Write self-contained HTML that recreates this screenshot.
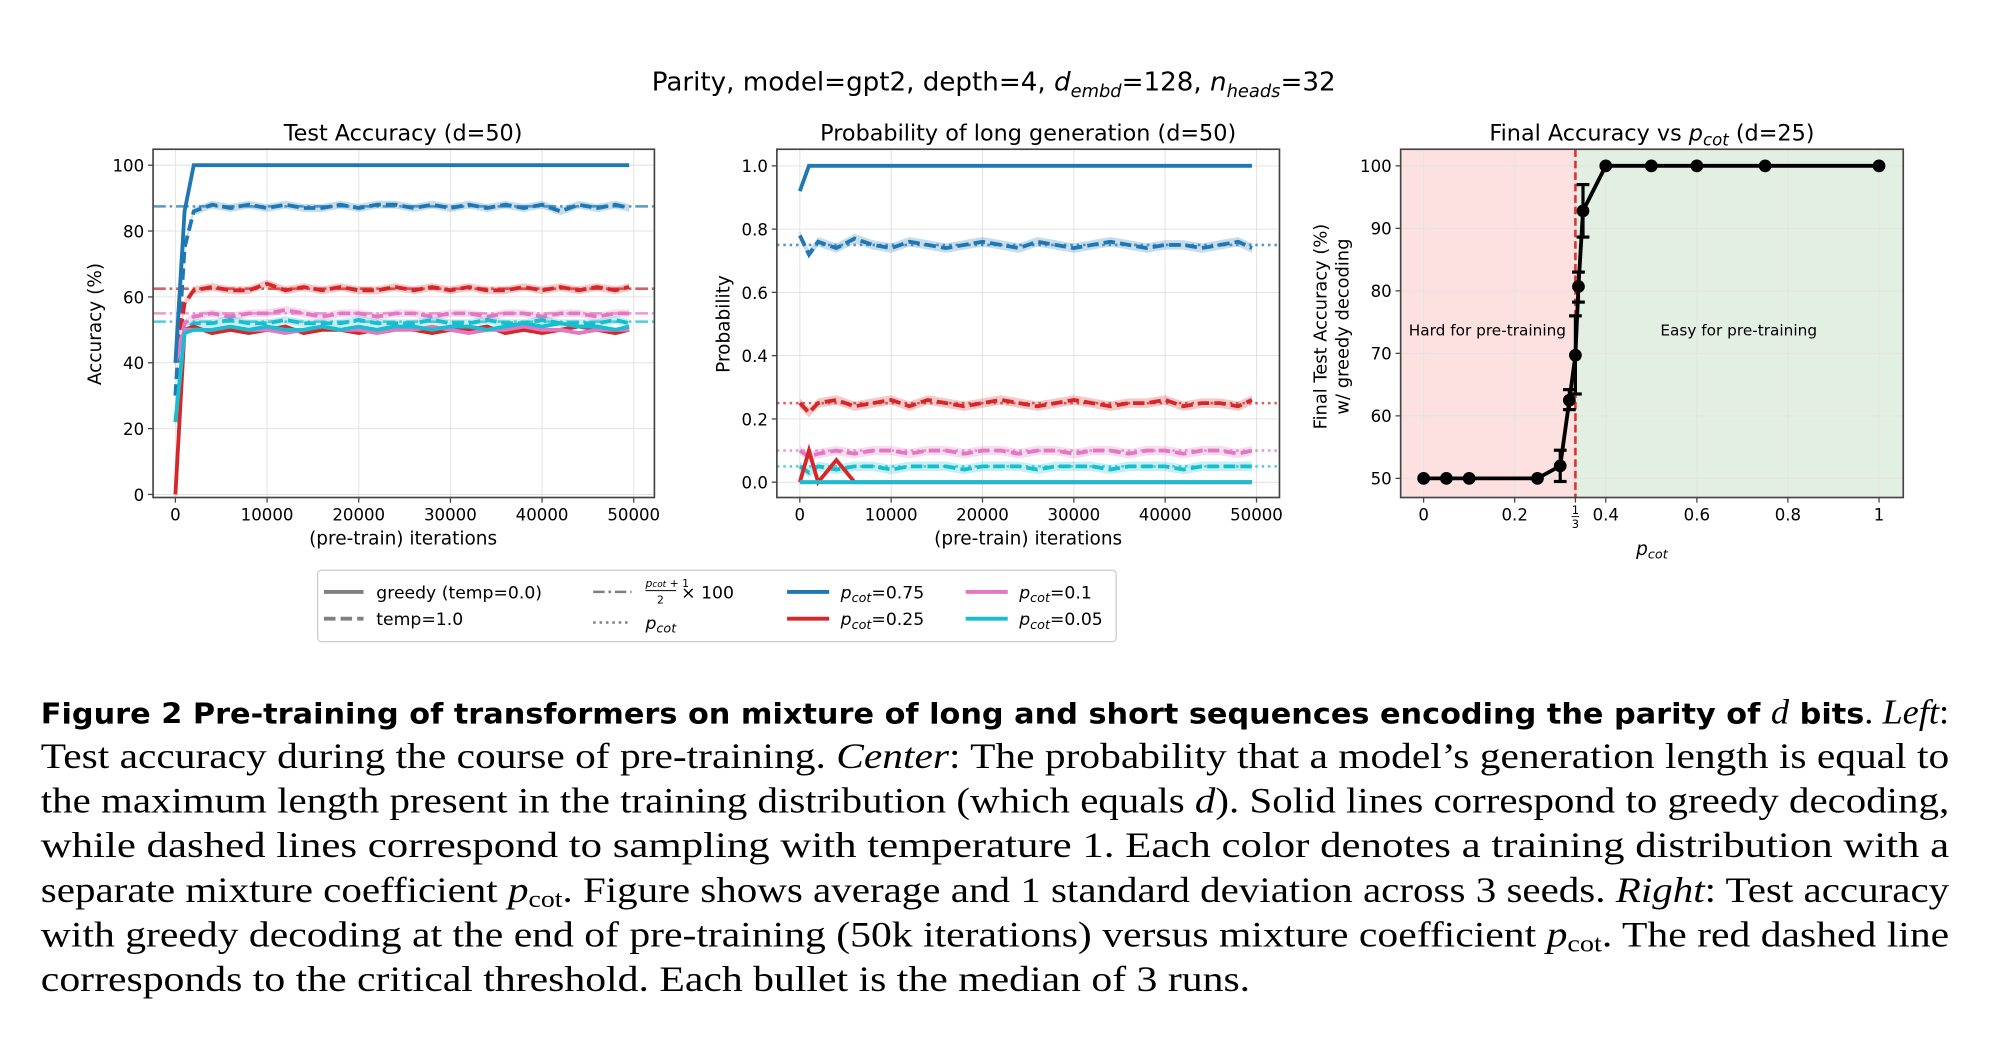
<!DOCTYPE html>
<html><head><meta charset="utf-8"><style>
html,body{margin:0;padding:0;background:#fff;}
svg{display:block;}
.t{font-family:"DejaVu Sans","Liberation Sans",sans-serif;fill:#000;}
.s{font-family:"Liberation Serif",serif;fill:#000;}
</style></head><body>
<svg id="fig" width="1990" height="1038" viewBox="0 0 1560 813.7" preserveAspectRatio="none" xmlns="http://www.w3.org/2000/svg">
<rect x="0" y="0" width="1560" height="814" fill="#fff"/>
<text class="t" x="779" y="71" font-size="20.5" text-anchor="middle">Parity, model=gpt2, depth=4, <tspan font-style="italic">d</tspan><tspan font-size="14" dy="5" font-style="italic">embd</tspan><tspan dy="-5">=128, </tspan><tspan font-style="italic">n</tspan><tspan font-size="14" dy="5" font-style="italic">heads</tspan><tspan dy="-5">=32</tspan></text>
<g id="left"></g>
<g id="mid"></g>
<g id="right"></g>
<g id="legend">
<rect x="249" y="447" width="626" height="56" rx="3" fill="#fff" stroke="#ccc" stroke-width="1"/>
<line x1="254" y1="464" x2="285" y2="464" stroke="#808080" stroke-width="3"/>
<text class="t" x="295" y="469" font-size="13.5">greedy (temp=0.0)</text>
<line x1="254" y1="485" x2="285" y2="485" stroke="#808080" stroke-width="3" stroke-dasharray="9,4"/>
<text class="t" x="295" y="490" font-size="13.5">temp=1.0</text>
<line x1="465" y1="464" x2="495" y2="464" stroke="#808080" stroke-width="2" stroke-dasharray="9,3,2,3"/>
<text class="t" x="506" y="460" font-size="8.5" font-style="italic">p<tspan font-size="7">cot</tspan><tspan font-style="normal"> + 1</tspan></text>
<line x1="506" y1="463" x2="530" y2="463" stroke="#000" stroke-width="0.8"/>
<text class="t" x="515" y="473" font-size="8.5">2</text>
<text class="t" x="534" y="469" font-size="13.5">× 100</text>
<line x1="465" y1="488" x2="495" y2="488" stroke="#808080" stroke-width="2" stroke-dasharray="2,3"/>
<text class="t" x="506" y="493" font-size="13.5" font-style="italic">p<tspan font-size="10" dy="3">cot</tspan></text>
<line x1="617" y1="464" x2="650" y2="464" stroke="#1f77b4" stroke-width="3"/>
<text class="t" x="659" y="469" font-size="13.5"><tspan font-style="italic">p</tspan><tspan font-size="10" dy="3" font-style="italic">cot</tspan><tspan dy="-3">=0.75</tspan></text>
<line x1="617" y1="485" x2="650" y2="485" stroke="#d62728" stroke-width="3"/>
<text class="t" x="659" y="490" font-size="13.5"><tspan font-style="italic">p</tspan><tspan font-size="10" dy="3" font-style="italic">cot</tspan><tspan dy="-3">=0.25</tspan></text>
<line x1="757" y1="464" x2="790" y2="464" stroke="#e377c2" stroke-width="3"/>
<text class="t" x="799" y="469" font-size="13.5"><tspan font-style="italic">p</tspan><tspan font-size="10" dy="3" font-style="italic">cot</tspan><tspan dy="-3">=0.1</tspan></text>
<line x1="757" y1="485" x2="790" y2="485" stroke="#17becf" stroke-width="3"/>
<text class="t" x="799" y="490" font-size="13.5"><tspan font-style="italic">p</tspan><tspan font-size="10" dy="3" font-style="italic">cot</tspan><tspan dy="-3">=0.05</tspan></text>
</g>
<g id="caption">
<text x="32" y="567" font-size="22.5" textLength="1496" lengthAdjust="spacingAndGlyphs"><tspan class="t" font-weight="bold" font-family="Liberation Sans, sans-serif">Figure 2  Pre-training of transformers on mixture of long and short sequences encoding the parity of </tspan><tspan class="s" font-style="italic" font-size="27">d</tspan><tspan class="t" font-weight="bold" font-family="Liberation Sans, sans-serif"> bits</tspan><tspan class="s" font-size="27">. </tspan><tspan class="s" font-style="italic" font-size="27">Left</tspan><tspan class="s" font-size="27">:</tspan></text>
<text class="s" x="32" y="602" font-size="28" textLength="1496" lengthAdjust="spacingAndGlyphs">Test accuracy during the course of pre-training. <tspan font-style="italic">Center</tspan>: The probability that a model’s generation length is equal to</text>
<text class="s" x="32" y="637" font-size="28" textLength="1496" lengthAdjust="spacingAndGlyphs">the maximum length present in the training distribution (which equals <tspan font-style="italic">d</tspan>). Solid lines correspond to greedy decoding,</text>
<text class="s" x="32" y="672" font-size="28" textLength="1496" lengthAdjust="spacingAndGlyphs">while dashed lines correspond to sampling with temperature 1. Each color denotes a training distribution with a</text>
<text class="s" x="32" y="707" font-size="28" textLength="1496" lengthAdjust="spacingAndGlyphs">separate mixture coefficient <tspan font-style="italic">p</tspan><tspan font-size="19" dy="4">cot</tspan><tspan dy="-4">. Figure shows average and 1 standard deviation across 3 seeds. </tspan><tspan font-style="italic">Right</tspan>: Test accuracy</text>
<text class="s" x="32" y="742" font-size="28" textLength="1496" lengthAdjust="spacingAndGlyphs">with greedy decoding at the end of pre-training (50k iterations) versus mixture coefficient <tspan font-style="italic">p</tspan><tspan font-size="19" dy="4">cot</tspan><tspan dy="-4">. The red dashed line</tspan></text>
<text class="s" x="32" y="777" font-size="28" textLength="948" lengthAdjust="spacingAndGlyphs">corresponds to the critical threshold. Each bullet is the median of 3 runs.</text>
</g>
</svg>
<script>
const iters = [0,1000,2000,4000,6000,8000,10000,12000,14000,16000,18000,20000,22000,24000,26000,28000,30000,32000,34000,36000,38000,40000,42000,44000,46000,48000,49500];
const pcots = [0.75,0.25,0.1,0.05];
const accGreedy075 = [40,86,100,100,100,100,100,100,100,100,100,100,100,100,100,100,100,100,100,100,100,100,100,100,100,100,100];
const accGreedy025 = [0,50,51,49,50,49,50,51,49,50,50,49,50,51,50,49,50,50,51,49,50,49,50,51,50,49,50];
const accGreedy010 = [40,50,50,50,51,50,50,49,50,51,50,50,49,50,50,51,50,49,50,50,51,50,50,49,50,50,50];
const accGreedy005 = [22,49,50,50,51,50,51,50,50,51,50,51,50,51,51,50,51,51,50,51,52,51,52,51,51,50,51];
const accTemp075 = [30,75,86,88,87,88,87,88,87,87,88,87,88,88,87,88,87,88,87,88,87,88,86,88,87,88,87];
const accTemp025 = [40,58,62,63,62,62,64,62,63,62,63,62,62,63,62,63,62,63,62,62,63,62,63,62,63,62,63];
const accTemp010 = [40,52,54,55,54,55,55,56,55,54,55,55,54,55,55,54,55,55,54,55,55,54,55,55,54,55,55];
const accTemp005 = [22,50,52,52,53,52,52,53,52,52,52,53,52,52,52,53,52,52,53,52,52,53,52,52,52,53,52];
const probGreedy075 = [0.92,1,1,1,1,1,1,1,1,1,1,1,1,1,1,1,1,1,1,1,1,1,1,1,1,1,1];
const probGreedy025 = [0,0.1,0,0.07,0,0,0,0,0,0,0,0,0,0,0,0,0,0,0,0,0,0,0,0,0,0,0];
const probGreedy010 = [0,0,0,0,0,0,0,0,0,0,0,0,0,0,0,0,0,0,0,0,0,0,0,0,0,0,0];
const probGreedy005 = [0,0,0,0,0,0,0,0,0,0,0,0,0,0,0,0,0,0,0,0,0,0,0,0,0,0,0];
const probTemp075 = [0.78,0.72,0.76,0.74,0.77,0.75,0.74,0.76,0.75,0.74,0.75,0.76,0.75,0.74,0.76,0.75,0.74,0.75,0.76,0.75,0.74,0.75,0.75,0.74,0.75,0.76,0.74];
const probTemp025 = [0.25,0.22,0.25,0.26,0.24,0.25,0.26,0.24,0.26,0.25,0.24,0.25,0.26,0.25,0.24,0.25,0.26,0.25,0.24,0.25,0.25,0.26,0.24,0.25,0.25,0.24,0.26];
const probTemp010 = [0.1,0.08,0.09,0.1,0.09,0.1,0.1,0.09,0.1,0.1,0.09,0.1,0.1,0.09,0.1,0.1,0.09,0.1,0.1,0.09,0.1,0.1,0.09,0.1,0.1,0.09,0.1];
const probTemp005 = [0.05,0.03,0.05,0.04,0.05,0.05,0.04,0.05,0.05,0.05,0.04,0.05,0.05,0.05,0.04,0.05,0.05,0.05,0.04,0.05,0.05,0.05,0.04,0.05,0.05,0.05,0.05];
const finalP = [0,0.05,0.1,0.25,0.3,0.32,0.3333,0.34,0.35,0.4,0.5,0.6,0.75,1];
const finalAcc = [50,50,50,50,52,62.5,69.7,80.7,92.8,100,100,100,100,100];
const finalLo = [50,50,50,50,49.5,61,63.5,78.2,88.6,100,100,100,100,100];
const finalHi = [50,50,50,50,54.5,64.2,76,83,97,100,100,100,100,100];
const leftXTicks = [0,10000,20000,30000,40000,50000];
const leftYTicks = [0,20,40,60,80,100];
const midYTicks = [0,0.2,0.4,0.6,0.8,1.0];
const rightXTicks = [0,0.2,1/3,0.4,0.6,0.8,1];
const rightXLabels = ["0","0.2","1/3","0.4","0.6","0.8","1"];
const rightYTicks = [50,60,70,80,90,100];

const NS="http://www.w3.org/2000/svg";
const COLORS=["#1f77b4","#d62728","#e377c2","#17becf"];
function mk(parent,tag,attrs){const e=document.createElementNS(NS,tag);for(const k in attrs)e.setAttribute(k,attrs[k]);parent.appendChild(e);return e;}
function txt(parent,x,y,s,size,anchor,extra){const e=mk(parent,"text",Object.assign({x:x,y:y,"font-size":size,"text-anchor":anchor||"middle",class:"t"},extra||{}));e.textContent=s;return e;}
function path(xs,ys,fx,fy){return xs.map((v,i)=>(i?"L":"M")+fx(v).toFixed(2)+","+fy(ys[i]).toFixed(2)).join("");}

function frame(g,x0,x1,y0,y1){
  const r=mk(g,"rect",{x:x0,y:y0,width:x1-x0,height:y1-y0,fill:"none",stroke:"#444","stroke-width":1.3});
  
  
}
function grid(g,x0,x1,y0,y1,xt,yt,fx,fy){
  xt.forEach(v=>mk(g,"line",{x1:fx(v),x2:fx(v),y1:y0,y2:y1,stroke:"#e3e3e3","stroke-width":0.8}));
  yt.forEach(v=>mk(g,"line",{x1:x0,x2:x1,y1:fy(v),y2:fy(v),stroke:"#e3e3e3","stroke-width":0.8}));
}

// ---- LEFT ----
(function(){
  const g=document.getElementById("left");
  const X0=120,X1=513,Y0=117,Y1=390;
  const fx=v=>137.5+v/50000*359.3, fy=v=>387.6-v*2.581;
  grid(g,X0,X1,Y0,Y1,leftXTicks,leftYTicks,fx,fy);
  const clip=mk(g,"clipPath",{id:"cl"});mk(clip,"rect",{x:X0,y:Y0,width:X1-X0,height:Y1-Y0});
  const inner=mk(g,"g",{"clip-path":"url(#cl)"});
  pcots.forEach((p,i)=>{const l=mk(inner,"line",{x1:X0,x2:X1,y1:fy((p+1)/2*100),y2:fy((p+1)/2*100),stroke:COLORS[i],"stroke-width":2,"stroke-opacity":0.75,"stroke-dasharray":"10,3,2,3"});
    
    });
  const temps=[accTemp075,accTemp025,accTemp010,accTemp005], greedys=[accGreedy075,accGreedy025,accGreedy010,accGreedy005];
  temps.forEach((arr,i)=>{
    const up=iters.map((v,k)=>fx(v)+","+fy(arr[k]+1.2)).join(" "), dn=iters.slice().reverse().map((v,k)=>fx(v)+","+fy(arr[arr.length-1-k]-1.2)).join(" ");
    mk(inner,"polygon",{points:up+" "+dn,fill:COLORS[i],"fill-opacity":0.25});
    const l=mk(inner,"path",{d:path(iters,arr,fx,fy),fill:"none",stroke:COLORS[i],"stroke-width":3,"stroke-dasharray":"9,4"});
    
    
  });
  [1,2,3,0].forEach(i=>{
    const l=mk(inner,"path",{d:path(iters,greedys[i],fx,fy),fill:"none",stroke:COLORS[i],"stroke-width":3});
    
    
  });
  frame(g,X0,X1,Y0,Y1);
  leftXTicks.forEach(v=>{mk(g,"line",{x1:fx(v),x2:fx(v),y1:Y1,y2:Y1+4,stroke:"#444"});txt(g,fx(v),Y1+18,String(v),13);});
  leftYTicks.forEach(v=>{mk(g,"line",{x1:X0-4,x2:X0,y1:fy(v),y2:fy(v),stroke:"#444"});txt(g,X0-7,fy(v)+5,String(v),13,"end");});
  const t=txt(g,316,110,"Test Accuracy (d=50)",17.5);
  
  
  const xl=txt(g,316,427,"(pre-train) iterations",14.5);
  
  
  const yl=txt(g,0,0,"Accuracy (%)",14.5,"middle",{transform:"translate(79,254) rotate(-90)"});
  
  
})();

// ---- MIDDLE ----
(function(){
  const g=document.getElementById("mid");
  const X0=609,X1=1003,Y0=117,Y1=390;
  const fx=v=>627+v/50000*358, fy=v=>378-v*248;
  grid(g,X0,X1,Y0,Y1,leftXTicks,midYTicks,fx,fy);
  const clip=mk(g,"clipPath",{id:"cm"});mk(clip,"rect",{x:X0,y:Y0,width:X1-X0,height:Y1-Y0});
  const inner=mk(g,"g",{"clip-path":"url(#cm)"});
  pcots.forEach((p,i)=>{const l=mk(inner,"line",{x1:X0,x2:X1,y1:fy(p),y2:fy(p),stroke:COLORS[i],"stroke-width":2,"stroke-opacity":0.75,"stroke-dasharray":"2,3"});
    
    });
  const temps=[probTemp075,probTemp025,probTemp010,probTemp005], greedys=[probGreedy075,probGreedy025,probGreedy010,probGreedy005];
  temps.forEach((arr,i)=>{
    const up=iters.map((v,k)=>fx(v)+","+fy(arr[k]+0.015)).join(" "), dn=iters.slice().reverse().map((v,k)=>fx(v)+","+fy(arr[arr.length-1-k]-0.015)).join(" ");
    mk(inner,"polygon",{points:up+" "+dn,fill:COLORS[i],"fill-opacity":0.25});
    const l=mk(inner,"path",{d:path(iters,arr,fx,fy),fill:"none",stroke:COLORS[i],"stroke-width":3,"stroke-dasharray":"9,4"});
    
    
  });
  [1,2,3,0].forEach(i=>{
    const l=mk(inner,"path",{d:path(iters,greedys[i],fx,fy),fill:"none",stroke:COLORS[i],"stroke-width":3});
    
    
  });
  frame(g,X0,X1,Y0,Y1);
  leftXTicks.forEach(v=>{mk(g,"line",{x1:fx(v),x2:fx(v),y1:Y1,y2:Y1+4,stroke:"#444"});txt(g,fx(v),Y1+18,String(v),13);});
  midYTicks.forEach(v=>{mk(g,"line",{x1:X0-4,x2:X0,y1:fy(v),y2:fy(v),stroke:"#444"});txt(g,X0-7,fy(v)+5,v.toFixed(1),13,"end");});
  const t=txt(g,806,110,"Probability of long generation (d=50)",17.5);
  
  
  const xl=txt(g,806,427,"(pre-train) iterations",14.5);
  
  
  const yl=txt(g,0,0,"Probability",14.5,"middle",{transform:"translate(572,254) rotate(-90)"});
  
  
})();

// ---- RIGHT ----
(function(){
  const g=document.getElementById("right");
  const X0=1098,X1=1492,Y0=117,Y1=390;
  const fx=v=>1116+v*357, fy=v=>375-(v-50)*4.9;
  const crit=1/3;
  mk(g,"rect",{x:X0,y:Y0,width:fx(crit)-X0,height:Y1-Y0,fill:"#fde0e0"});
  mk(g,"rect",{x:fx(crit),y:Y0,width:X1-fx(crit),height:Y1-Y0,fill:"#e3efe3"});
  grid(g,X0,X1,Y0,Y1,rightXTicks,rightYTicks,fx,fy);
  const cl=mk(g,"line",{x1:fx(crit),x2:fx(crit),y1:Y0,y2:Y1,stroke:"#e0302a","stroke-width":2,"stroke-dasharray":"6,3"});
  
  
  const h=txt(g,1166,263,"Hard for pre-training",12);
  
  
  const e=txt(g,1363,263,"Easy for pre-training",12);
  
  
  finalP.forEach((p,i)=>{ if(finalHi[i]-finalLo[i]>0.1){
    mk(g,"line",{x1:fx(p),x2:fx(p),y1:fy(finalLo[i]),y2:fy(finalHi[i]),stroke:"#000","stroke-width":2.5});
    [finalLo[i],finalHi[i]].forEach(v=>mk(g,"line",{x1:fx(p)-5,x2:fx(p)+5,y1:fy(v),y2:fy(v),stroke:"#000","stroke-width":2.5}));}});
  const ln=mk(g,"path",{d:path(finalP,finalAcc,fx,fy),fill:"none",stroke:"#000","stroke-width":3});
  
  
  finalP.forEach((p,i)=>{const c=mk(g,"circle",{cx:fx(p),cy:fy(finalAcc[i]),r:5,fill:"#000"});
    
    });
  frame(g,X0,X1,Y0,Y1);
  rightXTicks.forEach((v,i)=>{mk(g,"line",{x1:fx(v),x2:fx(v),y1:Y1,y2:Y1+4,stroke:"#444"});
    if(rightXLabels[i]==="1/3"){txt(g,fx(v),Y1+13,"1",9);mk(g,"line",{x1:fx(v)-3,x2:fx(v)+3,y1:Y1+15,y2:Y1+15,stroke:"#000","stroke-width":0.7});txt(g,fx(v),Y1+24,"3",9);}
    else txt(g,fx(v),Y1+18,rightXLabels[i],13);});
  rightYTicks.forEach(v=>{mk(g,"line",{x1:X0-4,x2:X0,y1:fy(v),y2:fy(v),stroke:"#444"});txt(g,X0-7,fy(v)+5,String(v),13,"end");});
  const t=mk(g,"text",{x:1295,y:110,"font-size":17.5,"text-anchor":"middle",class:"t"});
  t.innerHTML='Final Accuracy vs <tspan font-style="italic">p</tspan><tspan font-style="italic" font-size="13" dy="4">cot</tspan><tspan dy="-4"> (d=25)</tspan>';
  
  
  const xl=mk(g,"text",{x:1295,y:435,"font-size":14.5,"text-anchor":"middle",class:"t"});
  xl.innerHTML='<tspan font-style="italic">p</tspan><tspan font-style="italic" font-size="10" dy="3">cot</tspan>';
  
  
  const y1=txt(g,0,0,"Final Test Accuracy (%)",14,"middle",{transform:"translate(1040,256) rotate(-90)"});
  
  
  txt(g,0,0,"w/ greedy decoding",14,"middle",{transform:"translate(1057,256) rotate(-90)"});
})();
</script>
</body></html>
